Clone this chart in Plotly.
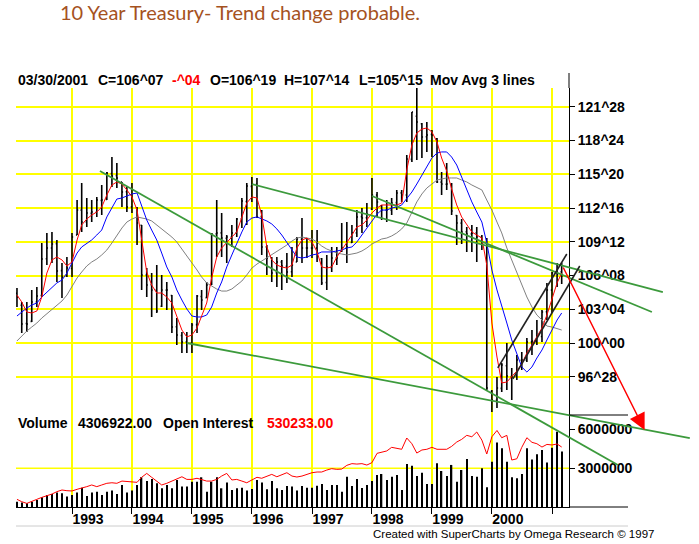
import pandas as pd
import plotly.graph_objects as go

# monthly bars, Feb 1992 .. Mar 2001
months = pd.date_range("1992-02-01", periods=110, freq="MS")

bar_open = [104.6, 103.5, 101.8, 102.0, 103.8, 104.4, 107.8, 108.8, 109.2, 106.7,
            106.2, 106.9, 110.0, 112.3, 111.2, 112.0, 112.1, 113.2, 113.3, 115.7,
            115.5, 114.9, 114.0, 112.6, 112.5, 110.9, 106.3, 105.4, 104.9, 103.4,
            104.9, 104.4, 101.5, 100.7, 100.1, 100.0, 101.7, 104.3, 104.2, 105.4,
            110.1, 110.2, 109.7, 109.8, 110.2, 111.5, 113.1, 114.5, 114.7, 111.7,
            108.9, 107.9, 106.5, 107.5, 107.1, 106.6, 107.5, 109.6, 108.8, 108.8,
            108.8, 107.8, 105.6, 107.0, 107.9, 108.5, 108.8, 109.3, 110.2, 111.7,
            111.6, 112.4, 113.7, 112.7, 112.3, 112.3, 113.0, 113.9, 113.7, 117.0,
            121.0, 120.3, 119.1, 119.3, 118.9, 114.9, 114.7, 114.7, 111.8, 111.1,
            110.3, 110.1, 110.2, 109.8, 109.3, 95.5, 94.7, 95.8, 97.9, 96.9,
            96.9, 98.4, 98.4, 100.1, 100.2, 100.6, 102.9, 104.9, 106.5, 106.59]
bar_high = [105.09, 103.80, 103.80, 104.91, 105.19, 109.26, 110.19, 110.28, 109.54, 107.41,
            107.96, 110.19, 113.24, 114.81, 113.43, 113.24, 113.52, 114.63, 115.83, 117.22,
            116.67, 114.91, 114.44, 114.81, 112.59, 110.93, 106.94, 106.48, 107.22, 106.30,
            105.65, 104.44, 102.31, 101.02, 101.02, 101.85, 104.44, 104.91, 105.65, 110.19,
            113.24, 112.04, 110.00, 110.93, 111.57, 113.43, 114.81, 115.37, 115.28, 112.31,
            109.07, 107.96, 107.96, 107.69, 108.33, 108.89, 109.81, 111.57, 109.72, 110.46,
            110.46, 107.87, 108.15, 108.89, 108.89, 111.11, 111.20, 110.93, 112.31, 112.50,
            112.96, 115.28, 113.98, 112.78, 113.24, 113.43, 114.17, 114.17, 117.41, 121.39,
            123.61, 120.37, 120.46, 119.72, 118.98, 115.83, 116.67, 114.81, 111.85, 111.48,
            110.74, 110.93, 110.74, 110.00, 109.72, 95.65, 96.85, 98.15, 100.00, 97.69,
            98.89, 99.17, 100.46, 101.20, 102.13, 103.06, 105.56, 106.57, 107.41, 107.44]
bar_low = [103.33, 100.93, 101.02, 101.94, 103.33, 104.26, 107.22, 107.41, 105.65, 104.17,
           106.11, 106.11, 110.00, 110.28, 110.74, 111.20, 111.67, 111.85, 113.24, 114.44,
           114.35, 112.59, 112.13, 112.04, 109.07, 104.91, 104.26, 102.41, 102.78, 103.33,
           103.06, 100.93, 99.81, 99.07, 99.07, 99.07, 100.93, 103.06, 104.17, 105.37,
           107.96, 107.96, 107.41, 108.89, 109.81, 110.65, 110.93, 113.06, 111.57, 108.15,
           106.30, 105.65, 105.19, 104.91, 105.56, 106.11, 107.50, 107.41, 107.87, 107.87,
           107.50, 105.37, 104.91, 106.57, 107.22, 108.43, 107.41, 109.26, 109.81, 110.19,
           110.74, 112.31, 111.67, 111.39, 111.20, 111.85, 112.31, 113.06, 113.06, 116.76,
           116.94, 117.13, 117.69, 117.22, 114.81, 113.70, 114.17, 111.85, 109.07, 109.17,
           108.43, 108.43, 107.50, 108.61, 95.65, 93.61, 93.98, 95.46, 95.65, 94.72,
           96.57, 97.50, 98.24, 98.89, 99.81, 100.09, 102.13, 102.78, 105.19, 105.47]
bar_close = [104.26, 101.76, 101.76, 103.80, 104.35, 107.78, 108.80, 109.17, 106.67, 106.11,
             106.94, 109.81, 112.31, 111.20, 112.04, 112.13, 113.24, 113.24, 115.74, 115.46,
             115.28, 113.98, 112.59, 114.17, 111.11, 106.30, 105.37, 104.91, 102.96, 104.91,
             104.91, 101.48, 100.74, 100.09, 100.00, 101.67, 104.35, 103.98, 105.37, 110.09,
             110.19, 109.72, 109.81, 110.19, 111.48, 113.15, 114.54, 114.72, 111.67, 108.89,
             107.87, 106.48, 107.50, 107.13, 106.57, 107.22, 109.63, 108.80, 108.80, 108.80,
             108.33, 105.56, 107.04, 107.87, 107.87, 108.80, 108.89, 110.19, 111.67, 111.57,
             111.94, 113.70, 113.06, 112.31, 112.31, 112.96, 113.89, 113.70, 117.04, 121.39,
             120.46, 119.07, 119.26, 119.26, 114.91, 114.72, 114.72, 112.22, 111.11, 110.28,
             110.09, 110.19, 109.81, 109.26, 95.83, 94.72, 95.83, 97.96, 96.94, 96.85,
             98.43, 98.43, 100.09, 100.19, 100.65, 102.87, 104.91, 106.48, 106.39, 106.22]

ma_red = [104.44, 103.80, 102.87, 102.78, 102.96, 104.26, 106.48, 107.69, 107.96, 107.69,
          107.13, 107.50, 109.54, 110.93, 111.48, 111.85, 112.13, 112.59, 113.70, 114.63,
          114.91, 114.72, 114.17, 113.52, 112.31, 109.54, 106.57, 105.37, 104.63, 104.63,
          104.26, 103.70, 102.41, 101.20, 100.56, 100.74, 101.39, 102.41, 103.70, 106.02,
          107.96, 108.80, 109.35, 109.81, 110.28, 111.67, 112.96, 113.52, 113.43, 111.85,
          108.89, 107.69, 107.22, 107.04, 106.94, 107.22, 108.80, 109.54, 109.72, 109.35,
          108.43, 107.04, 106.94, 107.04, 107.96, 108.61, 109.26, 110.00, 110.74, 110.93,
          111.39, 112.04, 112.50, 112.78, 112.78, 112.78, 112.78, 112.96, 116.02, 118.33,
          119.44, 119.81, 119.91, 119.54, 118.61, 117.13, 115.93, 114.26, 112.78, 111.67,
          110.93, 110.28, 110.00, 109.72, 107.22, 101.85, 98.70, 96.30, 96.39, 96.85,
          97.41, 98.06, 99.07, 99.81, 100.56, 101.39, 102.59, 104.17, 105.56, 106.48]
ma_blue = [102.50, 102.87, 103.24, 103.52, 103.70, 104.26, 104.72, 105.19, 105.56, 105.83,
           106.48, 107.41, 108.33, 108.89, 109.26, 109.54, 110.00, 110.46, 111.67, 112.59,
           113.33, 113.43, 113.61, 113.80, 113.89, 112.78, 111.39, 110.46, 109.54, 108.33,
           107.04, 106.11, 104.91, 103.98, 103.15, 102.50, 102.41, 102.41, 102.59, 103.33,
           104.63, 105.65, 107.04, 108.15, 109.26, 110.28, 111.20, 111.57, 111.67, 111.48,
           111.30, 111.02, 110.56, 110.00, 109.35, 108.61, 107.96, 107.87, 107.96, 108.15,
           108.24, 108.43, 108.43, 108.43, 108.52, 108.61, 108.80, 108.89, 109.35, 110.00,
           110.56, 111.30, 111.94, 112.31, 112.31, 112.50, 112.59, 112.78, 113.33, 113.98,
           114.72, 115.56, 116.39, 117.13, 117.59, 117.69, 117.69, 117.22, 116.48, 115.37,
           114.17, 113.06, 112.13, 111.20, 109.26, 106.76, 104.91, 103.33, 101.85, 100.28,
           99.07, 97.78, 97.31, 97.78, 98.61, 99.35, 100.28, 101.20, 102.13, 102.78]
ma_gray = [100.19, 100.65, 101.11, 101.48, 101.85, 102.31, 102.69, 103.06, 103.43, 103.89,
           104.44, 105.28, 106.02, 106.57, 107.13, 107.50, 107.78, 108.15, 108.61, 109.26,
           110.00, 110.65, 111.20, 111.48, 111.67, 111.57, 111.48, 111.30, 110.93, 110.56,
           110.19, 109.81, 109.35, 108.70, 108.15, 107.50, 106.76, 106.11, 105.56, 105.28,
           105.00, 104.81, 104.81, 105.00, 105.37, 105.74, 106.30, 106.94, 107.31, 107.59,
           107.87, 108.15, 108.52, 108.80, 109.07, 109.44, 109.72, 109.81, 109.72, 109.63,
           109.35, 108.98, 108.70, 108.52, 108.33, 108.24, 108.15, 108.24, 108.33, 108.52,
           108.80, 109.17, 109.44, 109.63, 109.72, 109.91, 110.19, 110.56, 111.11, 112.04,
           113.06, 113.80, 114.35, 114.72, 115.09, 115.19, 115.28, 115.28, 115.28, 115.09,
           114.91, 114.63, 114.44, 114.17, 113.24, 112.31, 111.20, 110.19, 108.80, 107.69,
           106.57, 105.37, 104.26, 103.33, 102.59, 102.13, 101.57, 101.48, 101.30, 101.20]

volume = [410000, 340000, 290000, 410000, 550000, 750000, 930000, 1010000, 1120000, 1060000,
          810000, 930000, 1120000, 1500000, 860000, 1120000, 1190000, 930000, 1190000, 1270000,
          1010000, 1700000, 1120000, 1270000, 1700000, 2300000, 2010000, 2170000, 1840000, 1450000,
          1700000, 1450000, 2100000, 1580000, 1580000, 1960000, 1960000, 2300000, 1190000, 1960000,
          2300000, 1450000, 1890000, 1320000, 1450000, 1500000, 1270000, 1390000, 2100000, 1890000,
          1370000, 2010000, 1450000, 1320000, 1630000, 1580000, 1270000, 1630000, 1500000, 1500000,
          1650000, 1780000, 1320000, 1710000, 1710000, 1190000, 2350000, 1630000, 2170000, 1470000,
          1710000, 2020000, 2480000, 2560000, 2090000, 2350000, 2480000, 1320000, 3330000, 3200000,
          2400000, 2660000, 1780000, 1780000, 3390000, 2790000, 2400000, 3260000, 1960000, 2870000,
          3720000, 2400000, 2350000, 3000000, 1530000, 3510000, 4990000, 4550000, 3510000, 2300000,
          2220000, 2560000, 4550000, 3690000, 4080000, 4420000, 3440000, 4600000, 5840000, 4306922]
open_interest = [155000, 138000, 126000, 138000, 155000, 169000, 179000, 193000, 210000, 222000,
                 217000, 215000, 227000, 234000, 246000, 258000, 246000, 258000, 270000, 274000,
                 270000, 286000, 282000, 282000, 277000, 313000, 341000, 313000, 282000, 258000,
                 270000, 286000, 298000, 317000, 298000, 298000, 306000, 294000, 286000, 286000,
                 298000, 322000, 341000, 294000, 298000, 286000, 274000, 294000, 313000, 306000,
                 322000, 334000, 317000, 329000, 346000, 322000, 315000, 322000, 334000, 346000,
                 351000, 351000, 365000, 375000, 370000, 372000, 399000, 411000, 408000, 411000,
                 401000, 418000, 485000, 492000, 502000, 528000, 523000, 514000, 595000, 554000,
                 487000, 509000, 514000, 528000, 514000, 514000, 514000, 535000, 566000, 585000,
                 614000, 604000, 638000, 580000, 480000, 604000, 649000, 597000, 614000, 437000,
                 446000, 528000, 597000, 564000, 554000, 530000, 549000, 545000, 552000, 530233]

price_ticks = [96.875, 100.0, 103.125, 106.25, 109.375, 112.5, 115.625, 118.75, 121.875]
price_labels = ["96^28", "100^00", "103^04", "106^08", "109^12", "112^16", "115^20", "118^24", "121^28"]
year_ticks = [f"{y}-01-01" for y in range(1993, 2002)]
year_labels = ["1993", "1994", "1995", "1996", "1997", "1998", "1999", "2000", ""]
volume_ticks = [3000000, 6000000]
volume_labels = ["3000000", "6000000"]

# hand-drawn trend lines (date, price)
green_start_dates = ["1993-06-20", "1994-12-01", "1996-01-01", "1998-01-01"]
green_start_prices = [115.93, 100.00, 114.72, 113.61]
green_end_dates = ["2002-02-06", "2003-04-20", "2002-11-07", "2002-09-01"]
green_end_prices = [88.70, 91.20, 104.72, 102.87]
channel_start_dates = ["2000-02-06", "2000-05-08"]
channel_start_prices = [97.69, 96.67]
channel_end_dates = ["2001-04-01", "2001-06-19"]
channel_end_prices = [108.24, 107.13]
arrow_dates = ["2001-03-06", "2002-07-19"]
arrow_prices = [107.13, 91.94]

# --- layout geometry (pixels of the 699x544 page) ---
W, H = 699, 544
ML, MB = 16, 37
PW, PH = W - ML, H - MB


def fx(x):
    return (x - ML) / PW


def fy(y):
    return 1 - y / PH


def price_at(y):
    return 100 + (343 - y) / 10.8


def date_at(x):
    return pd.Timestamp("1993-01-01") + pd.Timedelta(days=(x - 72) * 365.25 / 60)


YELLOW = "#FFFF00"
GREEN = "#3C9A3C"
BOLD = dict(family="Liberation Sans", size=14, color="black", weight="bold")

fig = go.Figure()

fig.add_trace(go.Bar(x=months, y=volume, width=8 * 86400000, marker=dict(color="black", line=dict(width=0)),
                     xaxis="x", yaxis="y2"))
fig.add_trace(go.Scatter(x=months, y=open_interest, mode="lines", line=dict(color="red", width=1),
                         xaxis="x", yaxis="y3"))
fig.add_trace(go.Ohlc(x=months, open=bar_open, high=bar_high, low=bar_low, close=bar_close,
                      increasing=dict(line=dict(color="black", width=1.6)),
                      decreasing=dict(line=dict(color="black", width=1.6)),
                      tickwidth=0.25, xaxis="x", yaxis="y"))
for vals, col in [(ma_gray, "#808080"), (ma_blue, "#0000FF"), (ma_red, "#FF0000")]:
    fig.add_trace(go.Scatter(x=months, y=vals, mode="lines", line=dict(color=col, width=1),
                             xaxis="x", yaxis="y"))

for i in range(len(green_start_dates)):
    fig.add_trace(go.Scatter(x=[green_start_dates[i], green_end_dates[i]],
                             y=[green_start_prices[i], green_end_prices[i]],
                             mode="lines", line=dict(color=GREEN, width=1.8), xaxis="x2", yaxis="y4"))
for i in range(len(channel_start_dates)):
    fig.add_trace(go.Scatter(x=[channel_start_dates[i], channel_end_dates[i]],
                             y=[channel_start_prices[i], channel_end_prices[i]],
                             mode="lines", line=dict(color="#222222", width=1.6), xaxis="x2", yaxis="y4"))

annotations = [
    dict(x=arrow_dates[1], y=arrow_prices[1], ax=arrow_dates[0], ay=arrow_prices[0],
         xref="x2", yref="y4", axref="x2", ayref="y4", text="", showarrow=True,
         arrowhead=2, arrowsize=2.2, arrowwidth=1.5, arrowcolor="#FF0000"),
    dict(x=fx(240), y=fy(12), xref="paper", yref="paper", xanchor="center", yanchor="middle",
         text="10 Year Treasury- Trend change probable.",
         showarrow=False, font=dict(family="Lato", size=20, color="#A5521E")),
    dict(x=fx(371), y=fy(534), xref="paper", yref="paper", xanchor="left", yanchor="middle",
         text="Created with SuperCharts by Omega Research © 1997", showarrow=False,
         font=dict(family="Liberation Sans", size=11.5, color="black")),
]
header = [(16, "03/30/2001", "black"), (96, "C=106^07", "black"), (170, "-^04", "red"),
          (208, "O=106^19", "black"), (282, "H=107^14", "black"), (357, "L=105^15", "black"),
          (428, "Mov Avg 3 lines", "black")]
for x, t, c in header:
    annotations.append(dict(x=fx(x), y=fy(80), xref="paper", yref="paper", xanchor="left", yanchor="middle",
                            text=t, showarrow=False, font=dict(BOLD, color=c)))
vol_header = [(16, "Volume", "black"), (76, "4306922.00", "black"), (161, "Open Interest", "black"),
              (265, "530233.00", "red")]
for x, t, c in vol_header:
    annotations.append(dict(x=fx(x), y=fy(423), xref="paper", yref="paper", xanchor="left", yanchor="middle",
                            text=t, showarrow=False, font=dict(BOLD, color=c)))

line = dict(color="black", width=1)
shapes = [
    dict(type="line", xref="paper", yref="paper", x0=fx(569), x1=fx(628), y0=fy(507), y1=fy(507), line=line),
    dict(type="line", xref="paper", yref="paper", x0=fx(569), x1=fx(628), y0=fy(415), y1=fy(415), line=line),
    dict(type="line", xref="paper", yref="paper", x0=fx(569), x1=fx(569), y0=fy(88), y1=fy(73), line=line),
    dict(type="line", xref="paper", yref="paper", x0=fx(16), x1=fx(628), y0=fy(526), y1=fy(526),
         line=dict(color="#cccccc", width=1)),
    dict(type="line", xref="x domain", yref="y2", x0=0, x1=1, y0=3000000, y1=3000000,
         line=dict(color=YELLOW, width=1.5), layer="below"),
]

fig.update_layout(
    width=W, height=H, margin=dict(l=ML, r=0, t=0, b=MB),
    paper_bgcolor="white", plot_bgcolor="rgba(0,0,0,0)",
    showlegend=False, hovermode=False,
    annotations=annotations, shapes=shapes,
    xaxis=dict(type="date", domain=[0, fx(569)], range=[date_at(16), date_at(569)], anchor="y2",
               rangeslider=dict(visible=False), showline=True, linecolor="black", linewidth=1,
               tickvals=year_ticks, ticktext=year_labels, ticks="outside", ticklen=6, tickcolor="black",
               tickfont=BOLD, ticklabelshift=16, ticklabelstandoff=-7, showgrid=True, gridcolor=YELLOW,
               gridwidth=1.5, zeroline=False, automargin=False),
    yaxis=dict(domain=[fy(415), fy(88)], range=[price_at(415), price_at(88)], anchor="x", side="right",
               tickvals=price_ticks, ticktext=price_labels, ticks="outside", ticklen=5, tickcolor="black",
               tickfont=BOLD, showline=True, linecolor="black", linewidth=1,
               showgrid=True, gridcolor=YELLOW, gridwidth=1.5, zeroline=False, automargin=False),
    yaxis2=dict(domain=[0, fy(415)], range=[0, 7130000], anchor="x", side="right",
                tickvals=volume_ticks, ticktext=volume_labels, ticks="outside", ticklen=5, tickcolor="black",
                tickfont=BOLD, showline=True, linecolor="black", linewidth=1,
                showgrid=False, zeroline=False, automargin=False),
    yaxis3=dict(overlaying="y2", range=[100000, 760000], anchor="x", visible=False),
    xaxis2=dict(type="date", domain=[0, 1], range=[date_at(16), date_at(699)], anchor="y4", visible=False),
    yaxis4=dict(domain=[0, 1], range=[price_at(PH), price_at(0)], anchor="x2", visible=False),
)

# the page's default body margin would offset the chart by 8px
fig.write_html("out.html", config={"displayModeBar": False},
               post_script="document.body.style.margin='0';")
